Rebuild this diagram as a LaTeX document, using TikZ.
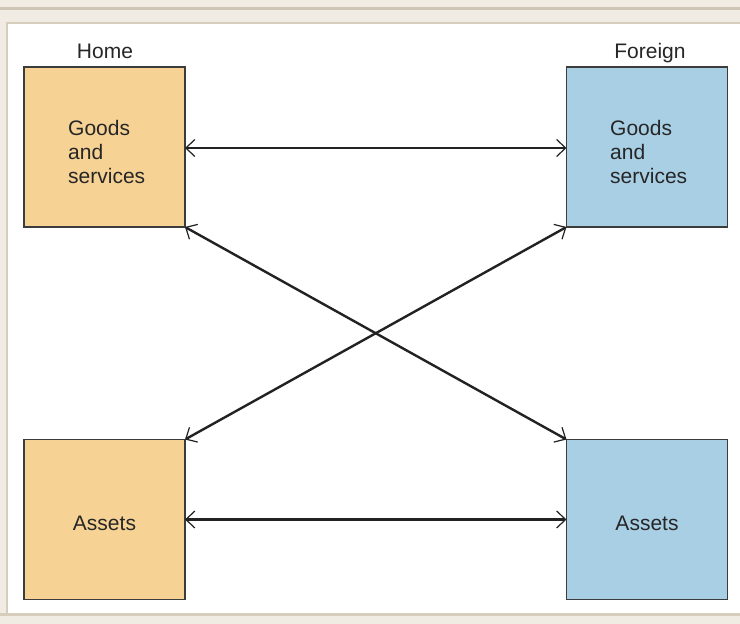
\documentclass[tikz,border=0pt]{standalone}
\usepackage{fontspec}
\setmainfont{Liberation Sans}
\usetikzlibrary{arrows.meta}
\definecolor{framebg}{HTML}{F0ECE3}
\definecolor{frameline}{HTML}{CEC5B4}
\definecolor{innerline}{HTML}{D6CDBD}
\definecolor{homefill}{HTML}{F6D295}
\definecolor{forfill}{HTML}{A9CFE5}
\definecolor{boxline}{HTML}{3C3C3C}
\definecolor{arrowcol}{HTML}{222222}
\tikzset{
  sectorbox/.style={draw=boxline, line width=1.5pt, minimum width=161pt, minimum height=160pt, inner sep=0pt, outer sep=0pt},
  homebox/.style={sectorbox, fill=homefill},
  forbox/.style={sectorbox, fill=forfill},
  lbl/.style={font=\fontsize{21}{24}\selectfont, text=black!85, inner sep=0pt},
  multilbl/.style={lbl, align=left, anchor=west},
  biarrow/.style={draw=arrowcol, line width=2.4pt, {Straight Barb[length=9pt, width=17pt, line width=1.2pt]}-{Straight Barb[length=9pt, width=17pt, line width=1.2pt]}}
}
\begin{document}
\begin{tikzpicture}[x=1pt, y=-1pt]
  \useasboundingbox (0,0) rectangle (740,624);
  % frame
  \fill[framebg] (0,0) rectangle (740,624);
  \fill[frameline] (0,7) rectangle (740,9.5);
  \fill[innerline] (6,22) rectangle (740,613);
  \fill[white] (8,24) rectangle (740,613);
  \fill[innerline] (0,613) rectangle (740,616);
  % boxes
  \node[homebox] (hg) at (104.5,147) {};
  \node[forbox]  (fg) at (647,147) {};
  \node[homebox] (ha) at (104.5,519.5) {};
  \node[forbox]  (fa) at (647,519.5) {};
  % headings
  \node[lbl, anchor=base] (home) at (105,58) {Home};
  \node[lbl, anchor=base] (foreign) at (650,58) {Foreign};
  % box texts
  \node[multilbl] (hgt) at (68,152) {Goods\\and\\services};
  \node[multilbl] (fgt) at (610,152) {Goods\\and\\services};
  \node[lbl, anchor=base] (hat) at (104.5,530) {Assets};
  \node[lbl, anchor=base] (fat) at (647,530) {Assets};
  % connectors
  \draw[biarrow] ([yshift=-1pt]hg.east) -- ([yshift=-1pt]fg.west);
  \draw[biarrow] (ha.east) -- (fa.west);
  \draw[biarrow] (hg.south east) -- (fa.north west);
  \draw[biarrow] (fg.south west) -- (ha.north east);
\end{tikzpicture}
\end{document}
